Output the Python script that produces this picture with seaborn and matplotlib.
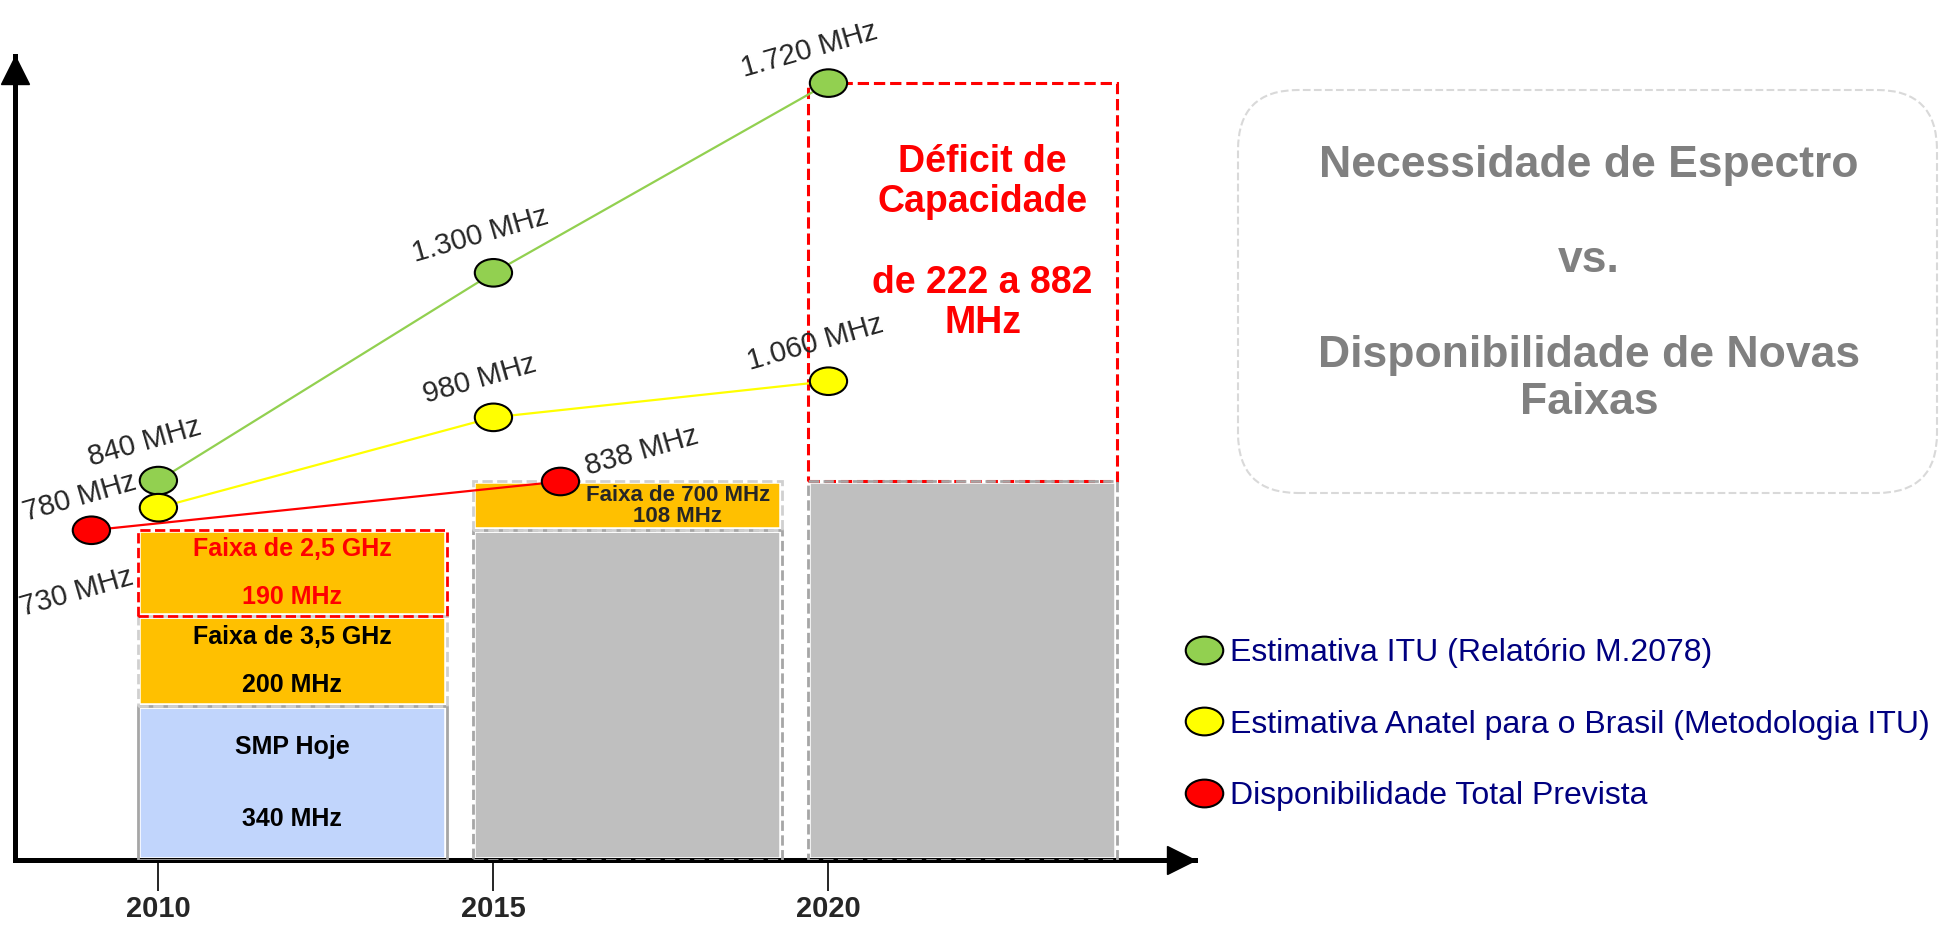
import numpy as np
import pandas as pd
import matplotlib
matplotlib.use("Agg")
import matplotlib.pyplot as plt
import seaborn as sns
from matplotlib.path import Path
from matplotlib.transforms import Affine2D
from matplotlib.lines import Line2D
from matplotlib.patches import FancyBboxPatch

# dados
anos = [2010, 2015, 2020]
itu_mhz = [840, 1300, 1720]
anatel_mhz = [780, 980, 1060]
disp_anos = [2009, 2016]
disp_mhz = [730, 838]

faixas_2010 = ["SMP Hoje", "Faixa de 3,5 GHz", "Faixa de 2,5 GHz"]
mhz_2010 = [340, 200, 190]
faixa_2015 = "Faixa de 700 MHz"
mhz_2015 = 108

series = ["Estimativa ITU (Relatório M.2078)",
          "Estimativa Anatel para o Brasil (Metodologia ITU)",
          "Disponibilidade Total Prevista"]
cores = ["#92D050", "#FFFF00", "#FF0000"]

sns.set_theme(style="white")
plt.rcParams["font.family"] = ["Liberation Sans", "DejaVu Sans"]


def mhz_txt(v):
    return f"{v:,} MHz".replace(",", ".")


df = pd.concat([
    pd.DataFrame({"ano": anos, "mhz": itu_mhz, "serie": series[0]}),
    pd.DataFrame({"ano": anos, "mhz": anatel_mhz, "serie": series[1]}),
    pd.DataFrame({"ano": disp_anos, "mhz": disp_mhz, "serie": series[2]}),
], ignore_index=True)

# marcador eliptico (a figura original esta esticada na horizontal)
elipse = Path.unit_circle().transformed(Affine2D().scale(1.0, 0.74))

fig = plt.figure(figsize=(19.41, 9.31), dpi=100)
ax = fig.add_axes([15 / 1941, 71 / 931, 1180 / 1941, 804 / 931])
ax.set_xlim(2007.86, 2025.47)
ax.set_ylim(0, 1780)

larg = 4.6
desloc = 2.0
laranja = "#FFC000"
cinza = "#BFBFBF"

# 2010: faixas empilhadas
x10 = anos[0] + desloc
base = 0
estilos_2010 = [("#C1D5FC", "#A6A6A6", "-", "black"),
                (laranja, "#D0D0D0", "--", "black"),
                (laranja, "#FF0000", "--", "#FF0000")]
for nome, h, (fc, ec, ls, tc) in zip(faixas_2010, mhz_2010, estilos_2010):
    ax.bar(x10, h, bottom=base, width=larg, color=fc, edgecolor="white", lw=4, zorder=2)
    ax.bar(x10, h, bottom=base, width=larg, fill=False, edgecolor=ec, ls=ls, lw=2, zorder=3)
    sep = "\n\n\n" if nome == "SMP Hoje" else "\n\n"
    ax.text(x10, base + h / 2, f"{nome}{sep}{h} MHz", ha="center", va="center",
            fontsize=18, fontweight="bold", color=tc, linespacing=1.0, zorder=4)
    base += h

# 2015: existente + 700 MHz
x15 = anos[1] + desloc
existente = sum(mhz_2010)
ax.bar(x15, existente, width=larg, color=cinza, edgecolor="white", lw=4, zorder=2)
ax.bar(x15, existente, width=larg, fill=False, edgecolor="#A6A6A6", ls="--", lw=2, zorder=3)
ax.bar(x15, mhz_2015, bottom=existente, width=larg, color=laranja, edgecolor="white", lw=4, zorder=2)
ax.bar(x15, mhz_2015, bottom=existente, width=larg, fill=False, edgecolor="#D0D0D0", ls="--", lw=2, zorder=3)
ax.text(x15 + 0.75, existente + mhz_2015 / 2, f"{faixa_2015}\n{mhz_2015} MHz", ha="center", va="center",
        fontsize=16, fontweight="bold", linespacing=1.0, zorder=7)

# 2020: disponivel + deficit
x20 = anos[2] + desloc
disp_2020 = existente + mhz_2015
def_min = anatel_mhz[-1] - disp_2020
def_max = itu_mhz[-1] - disp_2020
ax.bar(x20, disp_2020, width=larg, color=cinza, edgecolor="white", lw=4, zorder=2)
ax.bar(x20, disp_2020, width=larg, fill=False, edgecolor="#A6A6A6", ls="--", lw=2, zorder=3)
ax.bar(x20, def_max, bottom=disp_2020, width=larg, color="white", edgecolor="#FF0000",
       ls="--", lw=2.2, zorder=2)
ax.text(x20 + 0.3, disp_2020 + def_max * 0.6, f"Déficit de\nCapacidade\n\nde {def_min} a {def_max}\nMHz",
        ha="center", va="center", fontsize=27, fontweight="bold", color="#FF0000",
        linespacing=1.15, zorder=4)

# series
sns.lineplot(data=df, x="ano", y="mhz", hue="serie", palette=cores, lw=1.6,
             legend=False, sort=False, ax=ax, zorder=5)
sns.scatterplot(data=df, x="ano", y="mhz", hue="serie", palette=cores, marker=elipse,
                s=720, edgecolor="black", linewidth=1.5, legend=False, ax=ax, zorder=6)

# rotulos dos pontos (deslocamento em pontos)
desl = {
    ("itu", 0): (-8, 22), ("itu", 1): (-8, 22), ("itu", 2): (-12, 18),
    ("anatel", 0): (-55, 2), ("anatel", 1): (-8, 22), ("anatel", 2): (-8, 22),
    ("disp", 0): (-9, -50), ("disp", 1): (60, 16),
}
for chave, xs, ys in [("itu", anos, itu_mhz), ("anatel", anos, anatel_mhz), ("disp", disp_anos, disp_mhz)]:
    for i, (xv, yv) in enumerate(zip(xs, ys)):
        ax.annotate(mhz_txt(yv), (xv, yv), xytext=desl[(chave, i)], textcoords="offset points",
                    rotation=16, rotation_mode="anchor", ha="center", va="baseline",
                    fontsize=21, zorder=8, annotation_clip=False)

# eixos com setas
sns.despine(ax=ax)
for s in ["left", "bottom"]:
    ax.spines[s].set_linewidth(3.6)
    ax.spines[s].set_color("black")
ax.plot(1 - 14 / 1180, 0, ">", color="black", ms=20, transform=ax.transAxes, clip_on=False)
ax.plot(0, 1 - 14 / 804, "^", color="black", ms=20, transform=ax.transAxes, clip_on=False)
ax.set_yticks([])
ax.set_xticks(anos)
ax.set_xticklabels([str(a) for a in anos], fontsize=21, fontweight="bold")
ax.tick_params(axis="x", direction="out", length=22, width=1.2, color="black", pad=3, bottom=True)
ax.set_xlabel("")
ax.set_ylabel("")

# legenda
alcas = [Line2D([], [], ls="none", marker=elipse, ms=27, mfc=c, mec="black", mew=1.5) for c in cores]
fig.legend(alcas, series, loc="upper left", bbox_to_anchor=(1172 / 1941, 1 - 622 / 931),
           frameon=False, fontsize=23, labelcolor="#000080", handlelength=1.0,
           handletextpad=0.3, labelspacing=1.3, borderpad=0)

# caixa da direita
caixa = FancyBboxPatch((12.38, 4.38), 6.99, 4.03, boxstyle="round,pad=0,rounding_size=0.6",
                       transform=fig.dpi_scale_trans, fill=False, edgecolor="#D9D9D9",
                       ls="--", lw=1.5)
fig.patches.append(caixa)
fig.text(1589 / 1941, 1 - 284 / 931,
         "Necessidade de Espectro\n\nvs.\n\nDisponibilidade de Novas\nFaixas",
         ha="center", va="center", fontsize=32, fontweight="bold", color="#808080", linespacing=1.2)

fig.savefig("out.png", dpi=100)
